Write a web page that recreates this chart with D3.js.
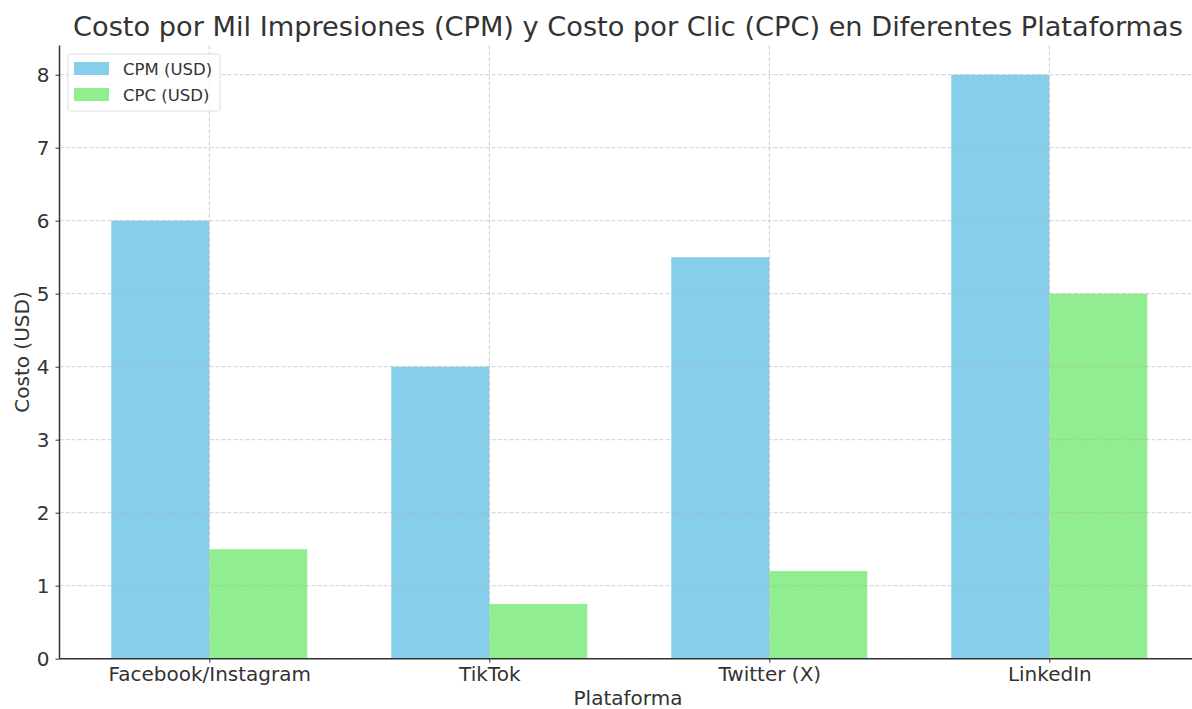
<!DOCTYPE html>
<html>
<head>
<meta charset="utf-8">
<script src="https://cdn.jsdelivr.net/npm/d3@7"></script>
<style>
  body { margin: 0; background: #fff; }
  text { font-family: "DejaVu Sans", sans-serif; fill: #333; }
  .axis path, .axis line { stroke: #333; }
  .grid line { stroke: #b0b0b0; stroke-opacity: 0.6; stroke-dasharray: 4,2; }
</style>
</head>
<body>
<script>
// data
var platforms = ["Facebook/Instagram", "TikTok", "Twitter (X)", "LinkedIn"];
var cpm = [6, 4, 5.5, 8];
var cpc = [1.5, 0.75, 1.2, 5];
var yTicks = [0, 1, 2, 3, 4, 5, 6, 7, 8];
var seriesNames = ["CPM (USD)", "CPC (USD)"];
var colors = ["#87ceeb", "#90ee90"];

var W = 1192, H = 709;
var plotLeft = 59.5, plotTop = 45.5, plotBottom = 658.7;
var barW = 0.35;

var svg = d3.select("body").append("svg")
  .attr("width", W).attr("height", H);

var xScale = d3.scaleLinear()
  .domain([-0.535, 3.535])
  .range([plotLeft, plotLeft + 4.07 * 280]);

var yScale = d3.scaleLinear()
  .domain([0, 8.4])
  .range([plotBottom, plotTop]);

// bars
var series = [cpm, cpc];
series.forEach(function(vals, s) {
  svg.append("g").selectAll("rect")
    .data(vals)
    .enter().append("rect")
    .attr("x", function(d, i) { return xScale(i + (s - 1) * barW); })
    .attr("width", function() { return xScale(barW) - xScale(0); })
    .attr("y", function(d) { return yScale(d); })
    .attr("height", function(d) { return yScale(0) - yScale(d); })
    .attr("fill", colors[s]);
});

// grid (drawn on top, like the original)
var grid = svg.append("g").attr("class", "grid");
grid.selectAll(".h").data(yTicks).enter().append("line")
  .attr("x1", plotLeft).attr("x2", W)
  .attr("y1", function(d) { return yScale(d); })
  .attr("y2", function(d) { return yScale(d); });
grid.selectAll(".v").data(platforms).enter().append("line")
  .attr("x1", function(d, i) { return xScale(i); })
  .attr("x2", function(d, i) { return xScale(i); })
  .attr("y1", plotTop).attr("y2", plotBottom);

// axes
var xAxis = d3.axisBottom(xScale)
  .tickValues(d3.range(platforms.length))
  .tickFormat(function(i) { return platforms[i]; })
  .tickSize(4).tickPadding(4);
svg.append("g")
  .attr("class", "axis")
  .attr("transform", "translate(0," + plotBottom + ")")
  .call(xAxis)
  .call(function(g) { g.select(".domain").attr("d", "M" + plotLeft + ",0H" + W).attr("stroke-width", 1.5); })
  .selectAll("text").style("font-size", "20px").attr("fill", "#333");

var yAxis = d3.axisLeft(yScale)
  .tickValues(yTicks)
  .tickFormat(d3.format("d"))
  .tickSize(4).tickPadding(6);
svg.append("g")
  .attr("class", "axis")
  .attr("transform", "translate(" + plotLeft + ",0)")
  .call(yAxis)
  .call(function(g) { g.select(".domain").attr("d", "M0," + plotTop + "V" + plotBottom).attr("stroke-width", 1.5); })
  .selectAll("text").style("font-size", "20px").attr("fill", "#333");

// labels
svg.append("text")
  .attr("x", 628).attr("y", 36)
  .attr("text-anchor", "middle")
  .style("font-size", "27.2px")
  .text("Costo por Mil Impresiones (CPM) y Costo por Clic (CPC) en Diferentes Plataformas");

svg.append("text")
  .attr("x", 628).attr("y", 705)
  .attr("text-anchor", "middle")
  .style("font-size", "20px")
  .text("Plataforma");

svg.append("text")
  .attr("transform", "translate(29," + 352 + ") rotate(-90)")
  .attr("text-anchor", "middle")
  .style("font-size", "20px")
  .text("Costo (USD)");

// legend
var legend = svg.append("g").attr("transform", "translate(68,54)");
legend.append("rect")
  .attr("width", 152).attr("height", 57)
  .attr("rx", 3)
  .attr("fill", "#fff").attr("fill-opacity", 0.8)
  .attr("stroke", "#ddd");
var items = legend.selectAll(".item").data(seriesNames).enter().append("g")
  .attr("transform", function(d, i) { return "translate(6," + (8 + i * 26) + ")"; });
items.append("rect")
  .attr("width", 35).attr("height", 13)
  .attr("fill", function(d, i) { return colors[i]; });
items.append("text")
  .attr("x", 49).attr("y", 12.5)
  .style("font-size", "16.5px")
  .text(function(d) { return d; });
</script>
</body>
</html>
